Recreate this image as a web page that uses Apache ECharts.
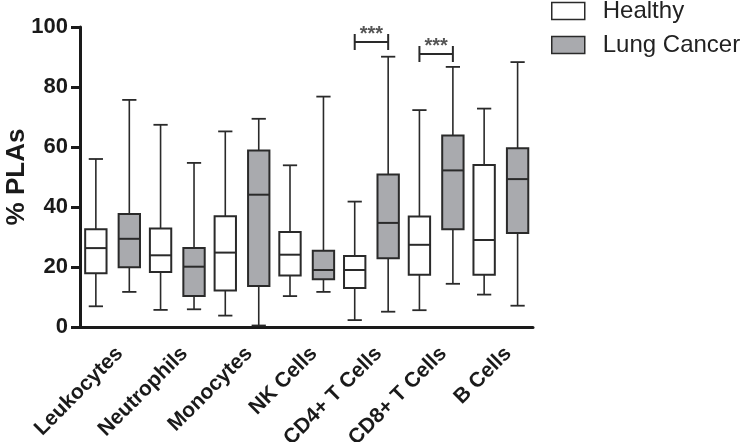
<!DOCTYPE html>
<html>
<head>
<meta charset="utf-8">
<script src="https://cdn.jsdelivr.net/npm/echarts@6/dist/echarts.min.js"></script>
<style>
  html, body { margin: 0; padding: 0; background: #fff; }
  #chart { width: 744px; height: 442px; }
</style>
</head>
<body>
<div id="chart"></div>
<script>
// categories on the x axis
const categories = ["Leukocytes", "Neutrophils", "Monocytes", "NK Cells", "CD4+ T Cells", "CD8+ T Cells", "B Cells"];

// [min, q1, median, q3, max] per category
const healthyBoxes = [
  [6.9, 17.9, 26.3, 32.6, 56.0],
  [5.7, 18.3, 23.9, 32.8, 67.4],
  [3.8, 12.2, 24.8, 36.9, 65.2],
  [10.3, 17.2, 24.1, 31.7, 53.9],
  [2.3, 13.0, 19.0, 23.7, 41.8],
  [5.6, 17.4, 27.4, 36.8, 72.3],
  [10.8, 17.4, 29.0, 54.0, 72.8],
];
const lungBoxes = [
  [11.7, 19.9, 29.4, 37.7, 75.7],
  [5.9, 10.3, 20.1, 26.3, 54.7],
  [0.5, 13.7, 44.1, 58.8, 69.4],
  [11.7, 15.9, 19.0, 25.4, 76.8],
  [5.1, 22.9, 34.7, 50.8, 90.1],
  [14.4, 32.6, 52.2, 63.8, 86.7],
  [7.1, 31.3, 49.3, 59.6, 88.3],
];

// significance brackets: [category index, bracket height]
const sigBrackets = [
  [4, 95],
  [5, 91],
];
const yTicks = [0, 20, 40, 60, 80, 100];

const HEALTHY_OFFSET = -0.255;
const LUNG_OFFSET = 0.262;
const BOX_FRAC = 0.33;
const CAP_FRAC = 0.22;
const LINE = "#2a2a2a";
const FONT = "'Liberation Sans', Arial, sans-serif";

function boxRenderer(offsetFrac) {
  return function (params, api) {
    const cat = api.value(0);
    const band = api.size([1, 0])[0];
    const cx = api.coord([cat, 0])[0] + band * offsetFrac;
    const w = band * BOX_FRAC;
    const cap = band * CAP_FRAC;
    const y = (i) => api.coord([cat, api.value(i)])[1];
    const yMin = y(1), yQ1 = y(2), yMed = y(3), yQ3 = y(4), yMax = y(5);
    const style = api.style();
    const line = (x1, y1, x2, y2, lw) => ({
      type: "line",
      shape: { x1, y1, x2, y2 },
      style: { stroke: LINE, lineWidth: lw },
    });
    return {
      type: "group",
      children: [
        line(cx, yMin, cx, yQ1, 1.6),
        line(cx, yQ3, cx, yMax, 1.6),
        line(cx - cap / 2, yMin, cx + cap / 2, yMin, 1.8),
        line(cx - cap / 2, yMax, cx + cap / 2, yMax, 1.8),
        {
          type: "rect",
          shape: { x: cx - w / 2, y: yQ3, width: w, height: yQ1 - yQ3 },
          style: { fill: style.fill, stroke: LINE, lineWidth: 2 },
        },
        line(cx - w / 2, yMed, cx + w / 2, yMed, 2),
      ],
    };
  };
}

function bracketRenderer(params, api) {
  const cat = api.value(0);
  const band = api.size([1, 0])[0];
  const c = api.coord([cat, api.value(1)]);
  const x1 = c[0] + band * HEALTHY_OFFSET;
  const x2 = c[0] + band * LUNG_OFFSET;
  const yb = c[1];
  return {
    type: "group",
    children: [
      { type: "line", shape: { x1, y1: yb, x2, y2: yb }, style: { stroke: LINE, lineWidth: 2 } },
      { type: "line", shape: { x1, y1: yb - 8, x2: x1, y2: yb + 8 }, style: { stroke: LINE, lineWidth: 2 } },
      { type: "line", shape: { x1: x2, y1: yb - 8, x2, y2: yb + 8 }, style: { stroke: LINE, lineWidth: 2 } },
      {
        type: "text",
        x: (x1 + x2) / 2,
        y: yb - 18,
        style: {
          text: "***",
          fill: "#555",
          font: "bold 20px " + FONT,
          align: "center",
          verticalAlign: "top",
        },
      },
    ],
  };
}

const chart = echarts.init(document.getElementById("chart"));
chart.setOption({
  animation: false,
  backgroundColor: "#fff",
  textStyle: { fontFamily: FONT },
  grid: { left: 80, right: 211, top: 27, bottom: 115, outerBoundsMode: "none", containLabel: false },
  legend: {
    orient: "vertical",
    left: 551,
    top: -1,
    padding: 0,
    itemWidth: 33,
    itemHeight: 17,
    itemGap: 10,
    textStyle: { fontSize: 24, color: "#222", padding: [0, 0, 0, 13] },
    data: [
      { name: "Healthy", icon: "rect", itemStyle: { color: "#fff", borderColor: LINE, borderWidth: 1.5 } },
      { name: "Lung Cancer", icon: "rect", itemStyle: { color: "#a9aaae", borderColor: LINE, borderWidth: 1.5 } },
    ],
  },
  xAxis: {
    type: "category",
    data: categories,
    axisLine: { lineStyle: { color: "#1a1a1a", width: 3 } },
    axisTick: { alignWithLabel: true, length: 10, lineStyle: { color: "#1a1a1a", width: 3 } },
    axisLabel: {
      rotate: 45,
      margin: 16,
      interval: 0,
      fontSize: 21,
      fontWeight: "bold",
      color: "#1a1a1a",
      verticalAlign: "top",
    },
  },
  yAxis: {
    type: "value",
    min: yTicks[0],
    max: yTicks[yTicks.length - 1],
    interval: yTicks[1] - yTicks[0],
    name: "% PLAs",
    nameLocation: "middle",
    nameGap: 50,
    nameMoveOverlap: false,
    nameTextStyle: { fontSize: 26, fontWeight: "bold", color: "#1a1a1a" },
    axisLine: { show: true, lineStyle: { color: "#1a1a1a", width: 3 } },
    axisTick: { show: true, length: 9, lineStyle: { color: "#1a1a1a", width: 3 } },
    axisLabel: { margin: 12, fontSize: 22, fontWeight: "bold", color: "#1a1a1a" },
    splitLine: { show: false },
  },
  series: [
    {
      name: "Healthy",
      type: "custom",
      renderItem: boxRenderer(HEALTHY_OFFSET),
      itemStyle: { color: "#fff" },
      encode: { x: 0, y: [1, 2, 3, 4, 5] },
      data: healthyBoxes.map((b, i) => [i, ...b]),
    },
    {
      name: "Lung Cancer",
      type: "custom",
      renderItem: boxRenderer(LUNG_OFFSET),
      itemStyle: { color: "#a9aaae" },
      encode: { x: 0, y: [1, 2, 3, 4, 5] },
      data: lungBoxes.map((b, i) => [i, ...b]),
    },
    {
      name: "sig",
      type: "custom",
      renderItem: bracketRenderer,
      encode: { x: 0, y: 1 },
      data: sigBrackets,
      silent: true,
    },
  ],
});
</script>
</body>
</html>
